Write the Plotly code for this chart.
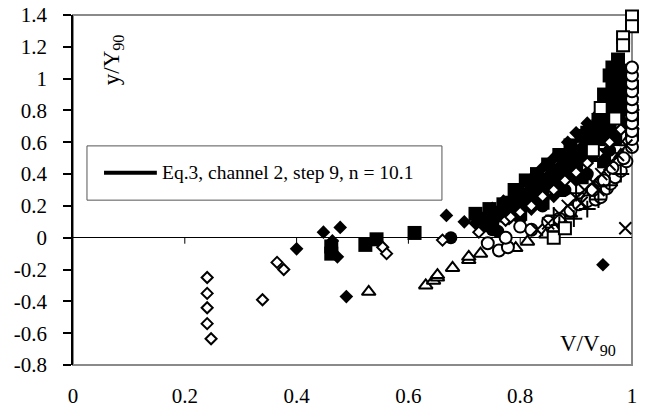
import plotly.graph_objects as go

# ---------------- data ----------------
fdia_x = [0.40, 0.448, 0.464, 0.473, 0.478, 0.489, 0.668, 0.70, 0.75, 0.948,
          0.73, 0.77, 0.80, 0.82, 0.84, 0.86, 0.885, 0.90, 0.92, 0.94, 0.955, 0.97, 0.985,
          0.83, 0.87, 0.91, 0.95, 0.98, 1.0,
          0.72, 0.76, 0.79, 0.81, 0.83, 0.85, 0.87, 0.89, 0.91, 0.93, 0.95, 0.97, 0.99, 0.96, 0.98,
          0.78, 0.82, 0.86, 0.90]
fdia_y = [-0.07, 0.035, -0.02, -0.12, 0.065, -0.37, 0.14, 0.10, 0.185, -0.17,
          0.13, 0.23, 0.30, 0.37, 0.44, 0.50, 0.60, 0.66, 0.72, 0.78, 0.86, 0.93, 1.0,
          0.28, 0.38, 0.50, 0.62, 0.75, 0.85,
          0.09, 0.16, 0.24, 0.27, 0.33, 0.39, 0.45, 0.51, 0.57, 0.63, 0.70, 0.80, 0.90, 0.66, 0.85,
          0.12, 0.18, 0.26, 0.36]

fsq_x = [0.462, 0.462, 0.523, 0.543, 0.611,
         0.72, 0.745, 0.77, 0.79, 0.80, 0.81, 0.83, 0.84, 0.85, 0.86, 0.87, 0.88, 0.89, 0.90,
         0.91, 0.92, 0.93, 0.94, 0.95, 0.96, 0.965, 0.965, 0.97, 0.98, 0.99, 0.98,
         0.75, 0.78, 0.82, 0.86, 0.90, 0.94, 0.97, 0.99, 0.99, 1.0,
         0.74, 0.76, 0.78, 0.80, 0.82, 0.84, 0.86, 0.88, 0.88, 0.90, 0.92, 0.92, 0.94, 0.94,
         0.96, 0.96, 0.97, 0.98, 0.985, 0.99, 1.0, 1.0, 0.95, 0.96, 0.975,
         0.80, 0.84, 0.87, 0.91, 0.95]
fsq_y = [-0.055, -0.10, -0.045, -0.01, 0.03,
         0.15, 0.18, 0.21, 0.30, 0.26, 0.36, 0.40, 0.34, 0.46, 0.42, 0.52, 0.47, 0.58, 0.54,
         0.64, 0.60, 0.68, 0.74, 0.80, 0.88, 0.95, 1.07, 1.0, 0.92, 0.85, 1.05,
         0.12, 0.16, 0.25, 0.33, 0.42, 0.52, 0.62, 0.72, 1.0, 0.95,
         0.08, 0.14, 0.22, 0.20, 0.31, 0.28, 0.38, 0.40, 0.52, 0.48, 0.52, 0.66, 0.62, 0.70,
         0.70, 0.78, 0.84, 0.80, 0.88, 0.93, 0.75, 0.65, 0.90, 1.02, 1.12,
         0.15, 0.22, 0.30, 0.38, 0.48]

fcir_x = [0.676, 0.75, 0.76, 0.80, 0.84, 0.88, 0.92, 0.96, 0.99]
fcir_y = [0.0, 0.05, 0.04, 0.12, 0.20, 0.30, 0.40, 0.55, 0.70]

odia_x = [0.240, 0.240, 0.240, 0.240, 0.247, 0.339, 0.365, 0.377, 0.554, 0.561, 0.661,
          0.726, 0.774, 0.783, 0.80, 0.82, 0.84, 0.86, 0.88, 0.90, 0.92, 0.94, 0.96, 0.98, 0.995]
odia_y = [-0.25, -0.35, -0.44, -0.54, -0.635, -0.39, -0.155, -0.20, -0.06, -0.10, -0.015,
          0.035, 0.11, 0.13, 0.16, 0.20, 0.26, 0.30, 0.36, 0.41, 0.47, 0.53, 0.60, 0.68, 0.76]

otri_x = [0.529, 0.631, 0.645, 0.652, 0.652, 0.679, 0.708, 0.708, 0.729, 0.792, 0.813,
          0.846, 0.86, 0.875, 0.89, 0.905, 0.92, 0.935, 0.95, 0.965, 0.98, 0.99, 1.0, 1.0]
otri_y = [-0.34, -0.30, -0.27, -0.25, -0.235, -0.19, -0.14, -0.12, -0.10, -0.065, -0.025,
          0.02, 0.06, 0.10, 0.15, 0.20, 0.26, 0.32, 0.38, 0.45, 0.52, 0.60, 0.70, 0.82]

ocir_x = [0.742, 0.762, 0.778, 0.774, 0.80, 0.82, 0.85, 0.87, 0.89, 0.905, 0.92, 0.935,
          0.944, 0.955, 0.962, 0.97, 0.98, 0.99, 1.0, 1.0, 1.0, 1.0, 1.0, 1.0, 1.0, 1.0,
          1.0, 1.0, 1.0, 0.93, 0.95, 0.965, 0.985]
ocir_y = [-0.035, -0.08, -0.06, 0.0, 0.07, 0.05, 0.10, 0.12, 0.17, 0.21, 0.23, 0.24,
          0.255, 0.31, 0.34, 0.38, 0.42, 0.48, 0.57, 0.62, 0.67, 0.72, 0.77, 0.82, 0.87, 0.92,
          0.97, 1.02, 1.07, 0.30, 0.36, 0.44, 0.50]

xmk_x = [0.988, 0.83, 0.85, 0.87, 0.885, 0.90, 0.915, 0.93, 0.945, 0.96, 0.975, 0.99, 0.91, 0.94]
xmk_y = [0.06, 0.05, 0.09, 0.15, 0.20, 0.25, 0.30, 0.35, 0.40, 0.46, 0.52, 0.58, 0.22, 0.30]

plus_x = [0.896, 0.87, 0.92, 0.94, 0.96, 0.98, 0.86, 0.90]
plus_y = [0.12, 0.08, 0.18, 0.24, 0.33, 0.40, 0.14, 0.28]

osq_x = [1.0, 1.0, 0.984, 0.984, 0.944, 0.86, 0.88, 0.93, 0.97]
osq_y = [1.39, 1.33, 1.26, 1.21, 0.815, 0.0, 0.06, 0.55, 0.75]

x_ticks = [0, 0.2, 0.4, 0.6, 0.8, 1]
x_tick_text = ["0", "0.2", "0.4", "0.6", "0.8", "1"]
y_ticks = [-0.8, -0.6, -0.4, -0.2, 0, 0.2, 0.4, 0.6, 0.8, 1, 1.2, 1.4]
y_tick_text = ["-0.8", "-0.6", "-0.4", "-0.2", "0", "0.2", "0.4", "0.6", "0.8", "1", "1.2", "1.4"]
zero_tick_x = [0.2, 0.4, 0.6, 0.8]

legend_label = "Eq.3, channel 2, step 9, n = 10.1"
x_title = "V/V<sub>90</sub>"
y_title = "y/Y<sub>90</sub>"

FONT = "Liberation Serif, Times New Roman, serif"

fig = go.Figure()

def add(xs, ys, symbol, size, color, lw=0, lcolor="black"):
    fig.add_trace(go.Scatter(
        x=xs, y=ys, mode="markers", cliponaxis=False, showlegend=False,
        marker=dict(symbol=symbol, size=size, color=color,
                    line=dict(width=lw, color=lcolor))))

add(fdia_x, fdia_y, "diamond", 10.5, "black")
add(fsq_x, fsq_y, "square", 14, "black")
add(fcir_x, fcir_y, "circle", 13, "black")
add(odia_x, odia_y, "diamond", 8.5, "white", 2)
add(otri_x, otri_y, "triangle-up", 12, "white", 2)
add(ocir_x, ocir_y, "circle", 12, "white", 2)
add(xmk_x, xmk_y, "x-thin", 12, "black", 2)
add(plus_x, plus_y, "cross-thin", 12, "black", 2)
add(osq_x, osq_y, "square", 12, "white", 2)

shapes = [
    # plot-area border (grey)
    dict(type="rect", xref="paper", yref="paper", x0=0, x1=1, y0=0, y1=1,
         line=dict(color="#8a8a8a", width=2), layer="below"),
    # legend box
    dict(type="rect", xref="paper", yref="paper", x0=0.025, x1=0.66, y0=0.471, y1=0.626,
         line=dict(color="#555555", width=1), fillcolor="white", layer="above"),
    dict(type="line", xref="paper", yref="paper", x0=0.0555, x1=0.150, y0=0.549, y1=0.549,
         line=dict(color="black", width=4), layer="above"),
]
for tx in zero_tick_x:
    shapes.append(dict(type="line", xref="x", yref="y", x0=tx, x1=tx,
                       ysizemode="pixel", yanchor=0, y0=0, y1=-6,
                       line=dict(color="black", width=1)))

annotations = [
    dict(text=legend_label, xref="paper", yref="paper", x=0.1556, y=0.549,
         xanchor="left", yanchor="middle", showarrow=False,
         font=dict(family=FONT, size=19.5, color="black")),
    dict(text=y_title, xref="paper", yref="paper", x=0.0716, y=0.871, textangle=-90,
         xanchor="center", yanchor="middle", showarrow=False,
         font=dict(family=FONT, size=23, color="black")),
    dict(text=x_title, xref="paper", yref="paper", x=0.921, y=0.057,
         xanchor="center", yanchor="middle", showarrow=False,
         font=dict(family=FONT, size=23, color="black")),
]

fig.update_layout(
    width=648, height=409,
    margin=dict(l=73, r=16, t=15, b=44),
    paper_bgcolor="white", plot_bgcolor="white",
    font=dict(family=FONT, size=21, color="black"),
    shapes=shapes, annotations=annotations,
    xaxis=dict(range=[0, 1], tickvals=x_ticks, ticktext=x_tick_text,
               showgrid=False, zeroline=False, showline=False, ticks="",
               ticklabelstandoff=16, automargin=False, fixedrange=True),
    yaxis=dict(range=[-0.8, 1.4], tickvals=y_ticks, ticktext=y_tick_text,
               showgrid=False, zeroline=True, zerolinecolor="black", zerolinewidth=1,
               showline=True, linecolor="black", linewidth=1.5,
               ticks="outside", ticklen=8, tickwidth=1.5, tickcolor="black",
               ticklabelstandoff=12, automargin=False, fixedrange=True),
)

fig.write_html("out.html")
